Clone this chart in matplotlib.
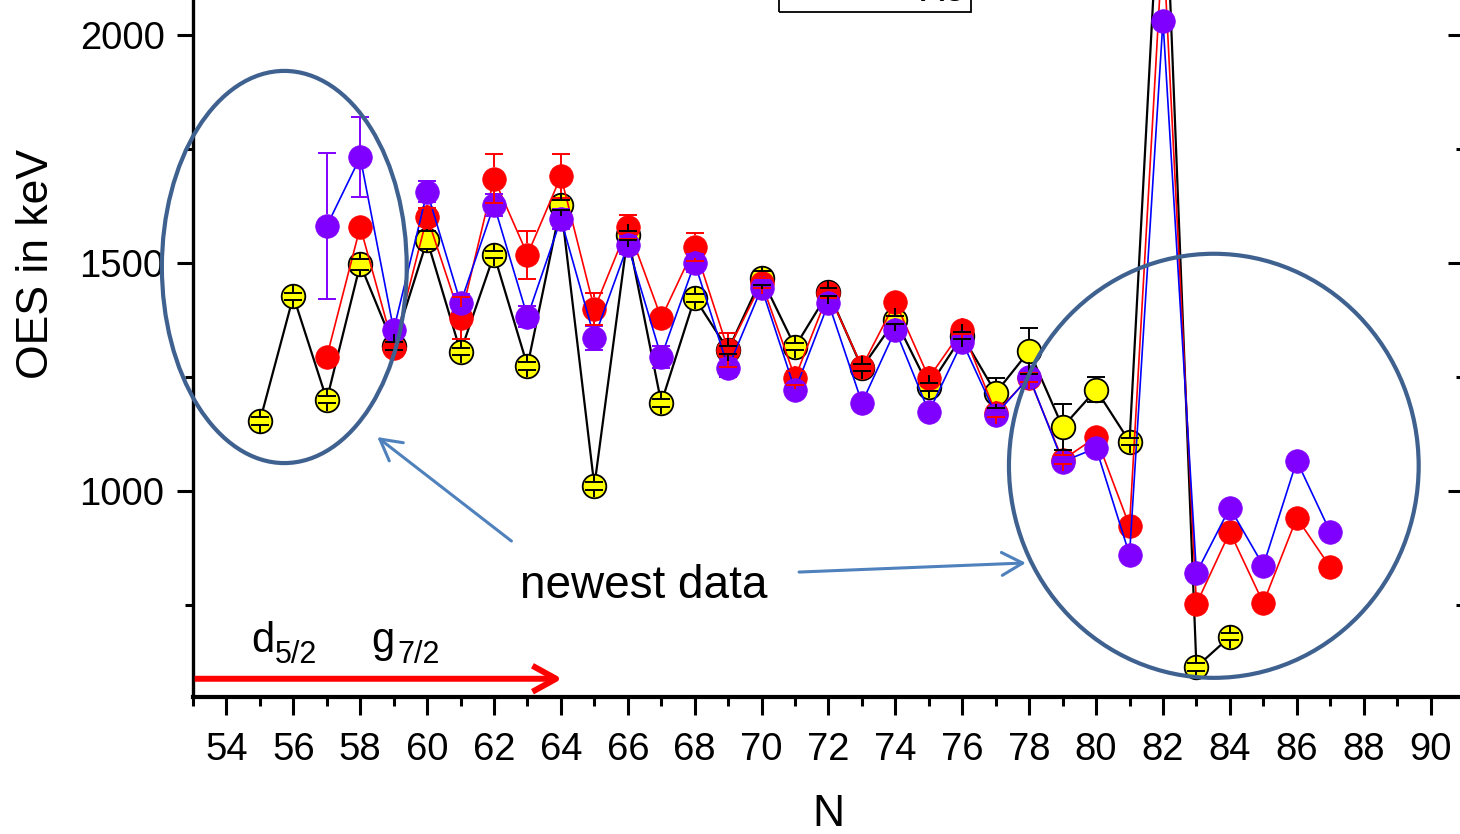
import matplotlib
matplotlib.use("Agg")
import matplotlib.pyplot as plt
import numpy as np
from matplotlib.patches import Ellipse, Rectangle, FancyArrowPatch
from matplotlib.collections import LineCollection
from matplotlib.ticker import MultipleLocator, FixedLocator

plt.rcParams['font.family'] = ['Liberation Sans', 'DejaVu Sans']

# ---------------- data ----------------
N_yellow = list(range(55, 85))
oes_yellow = [1153, 1427, 1200, 1497, 1318, 1550, 1305, 1518, 1274, 1627,
              1011, 1561, 1193, 1423, 1309, 1467, 1316, 1436, 1270, 1375,
              1228, 1340, 1215, 1307, 1140, 1222, 1108, 2480, 614, 680]
err_yellow = [8, 8, 8, 12, 8, 20, 8, 8, 8, 10,
              8, 10, 8, 8, 8, 15, 8, 8, 8, 8,
              8, 8, 33, 50, 50, 28, 8, 0, 8, 8]

N_red = list(range(57, 88))
oes_red = [1294, 1579, 1314, 1601, 1379, 1685, 1518, 1690, 1399, 1579,
           1379, 1535, 1309, 1456, 1248, 1434, 1272, 1414, 1248, 1353,
           1171, 1248, 1068, 1118, 923, 2210, 752, 910, 754, 941, 833]
err_red = [0, 0, 0, 20, 47, 53, 53, 48, 35, 26,
           10, 31, 37, 10, 15, 10, 10, 0, 10, 10,
           10, 10, 10, 0, 0, 0, 0, 0, 0, 0, 0]

N_purple = list(range(57, 88))
oes_purple = [1581, 1732, 1353, 1656, 1412, 1627, 1382, 1596, 1336, 1539,
              1294, 1500, 1270, 1445, 1221, 1412, 1193, 1353, 1173, 1327,
              1167, 1250, 1064, 1094, 860, 2031, 820, 963, 836, 1066, 910]
err_purple = [160, 87, 8, 23, 20, 25, 23, 22, 26, 20,
              24, 20, 20, 10, 10, 10, 0, 10, 0, 10,
              10, 10, 0, 0, 0, 0, 0, 0, 0, 0, 0]

x_major = list(range(54, 91, 2))
y_major = [1000, 1500, 2000]
y_minor = [750, 1250, 1750]

# ---------------- figure ----------------
W, H = 1460, 834
fig = plt.figure(figsize=(W / 100, H / 100), dpi=100)
ax_left, ax_right, ax_bottom = 193, 1464, 697
ymin, ymax = 548, 2100
ppu = 0.456
top_px = ax_bottom - (ymax - ymin) * ppu
ax = fig.add_axes([ax_left / W, (H - ax_bottom) / H,
                   (ax_right - ax_left) / W, (ax_bottom - top_px) / H])
ax.set_xlim(53, 91)
ax.set_ylim(ymin, ymax)

for s in ['top', 'right']:
    ax.spines[s].set_visible(False)
ax.spines['left'].set_linewidth(2.4)
ax.spines['bottom'].set_linewidth(3.0)

ax.xaxis.set_major_locator(FixedLocator(x_major))
ax.xaxis.set_minor_locator(MultipleLocator(1))
ax.yaxis.set_major_locator(FixedLocator(y_major))
ax.yaxis.set_minor_locator(FixedLocator(y_minor))
ax.tick_params(axis='x', which='major', direction='out', length=13, width=2.2,
               labelsize=27.5, pad=12)
ax.tick_params(axis='x', which='minor', direction='out', length=6.5, width=2.2)
ax.tick_params(axis='y', which='major', direction='out', length=11.5, width=2.2,
               labelsize=27.5, pad=9)
ax.tick_params(axis='y', which='minor', direction='out', length=5.8, width=2.2)

ax2 = ax.twinx()
ax2.set_ylim(ymin, ymax)
ax2.spines['top'].set_visible(False)
ax2.spines['left'].set_visible(False)
ax2.spines['bottom'].set_visible(False)
ax2.yaxis.set_major_locator(FixedLocator(y_major))
ax2.yaxis.set_minor_locator(FixedLocator(y_minor))
ax2.tick_params(axis='y', which='major', direction='in', length=11.5, width=2.2,
                labelright=False)
ax2.tick_params(axis='y', which='minor', direction='in', length=5.8, width=2.2)
ax.set_zorder(ax2.get_zorder() + 1)
ax.patch.set_visible(False)

ax.set_xlabel('N', fontsize=32, labelpad=19)
ax.set_ylabel('OES in keV', fontsize=32)
ax.yaxis.set_label_coords(-0.107, (ax_bottom - 264) / (ax_bottom - top_px))

MS = 17
ax.plot(N_yellow, oes_yellow, '-', color='black', lw=1.6, marker='o', ms=MS,
        mfc='#ffff00', mec='black', mew=1.3, zorder=3)
ax.plot(N_red, oes_red, '-', color='#ff0000', lw=1.2, marker='o', ms=MS,
        mfc='#ff0000', mec='#ff0000', mew=0.5, zorder=4)
ax.plot(N_purple, oes_purple, '-', color='#0000ff', lw=1.2, marker='o', ms=MS,
        mfc='#8000ff', mec='#8000ff', mew=0.5, zorder=5)

# Origin-style error bars (start at marker edge)
fig.canvas.draw()
p0 = ax.transData.transform((60, 1000))
p1 = ax.transData.transform((61, 1001))
ppx = p1[0] - p0[0]
ppy = p1[1] - p0[1]


def origin_err(xs, ys, es, color, z):
    r = 11.5 / ppy
    c = 9.0 / ppx
    segs = []
    for xi, yi, ei in zip(xs, ys, es):
        if ei <= 0 or yi > ymax:
            continue
        segs.append([(xi, yi + r), (xi, yi + ei)])
        segs.append([(xi, yi - r), (xi, yi - ei)])
        segs.append([(xi - c, yi + ei), (xi + c, yi + ei)])
        segs.append([(xi - c, yi - ei), (xi + c, yi - ei)])
    lc = LineCollection(segs, colors=color, linewidths=1.4, zorder=z)
    ax.add_collection(lc)


origin_err(N_yellow, oes_yellow, err_yellow, 'black', 8)
origin_err(N_red, oes_red, err_red, '#ff0000', 7)
origin_err(N_purple, oes_purple, err_purple, '#8000ff', 6)

# ellipses
ecol = '#3f6190'
ax.add_patch(Ellipse((55.73, 1491), 7.32, 860, fill=False, ec=ecol, lw=3.0,
                     zorder=10, clip_on=False))
ax.add_patch(Ellipse((83.52, 1055), 12.25, 930, fill=False, ec=ecol, lw=3.0,
                     zorder=10, clip_on=False))

# blue arrows
acol = '#4f81bd'
for (x0, y0), (x1, y1) in [((62.52, 890), (58.51, 1118)), ((71.12, 822), (77.9, 842))]:
    ax.add_patch(FancyArrowPatch((x0, y0), (x1, y1),
                                 arrowstyle='->,head_length=1.0,head_width=0.55',
                                 mutation_scale=15, lw=2.2, color=acol,
                                 shrinkA=0, shrinkB=0, zorder=11))
ax.text(66.49, 765, 'newest data', fontsize=33, ha='center', va='baseline', zorder=12)

# red arrow at bottom
ax.add_patch(FancyArrowPatch((53.05, 588), (64.04, 588),
                             arrowstyle='->,head_length=1.0,head_width=0.55',
                             mutation_scale=17, lw=4.3, color='#ff0000',
                             shrinkA=0, shrinkB=0, zorder=11, clip_on=False,
                             capstyle='butt'))
ax.text(54.74, 647, 'd', fontsize=30, ha='left', va='baseline')
ax.text(55.45, 623, '5/2', fontsize=22, ha='left', va='baseline')
ax.text(58.33, 647, 'g', fontsize=30, ha='left', va='baseline')
ax.text(59.12, 623, '7/2', fontsize=22, ha='left', va='baseline')

# partially visible legend box at the top
fig.patches.append(Rectangle((779, H - 12), 192, 60, transform=None, fill=False,
                             ec='black', lw=1.3, figure=fig))
fig.text(965 / W, (H - 1) / H, 'Xe', fontsize=27, ha='right', va='baseline')

fig.savefig('out.png', dpi=100)
